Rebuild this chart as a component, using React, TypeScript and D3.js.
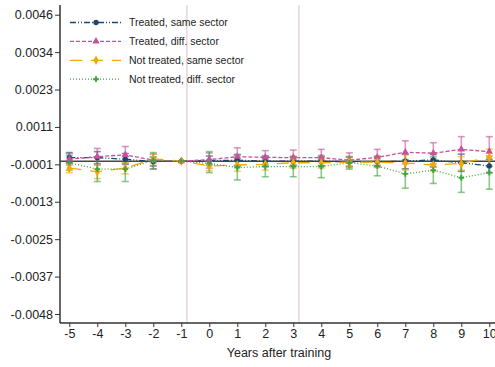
import * as d3 from 'd3';
import React, { useRef, useEffect } from 'react';

const years = [-5, -4, -3, -2, -1, 0, 1, 2, 3, 4, 5, 6, 7, 8, 9, 10];
const yTickLabels = ['-0.0048', '-0.0037', '-0.0025', '-0.0013', '-0.0001', '0.0011', '0.0023', '0.0034', '0.0046'];
const refLines = [-0.8, 3.2];

// treated, same sector
const tsCoef = [0.00011, 0.00011, 0.00006, -0.00001, 0, 0.00002, 0.00003, 0, 0, 0, -0.00002, -0.00002, 0, 0.00004, -0.00005, -0.00015];
const tsLo = [-0.00005, -0.00008, -0.0001, -0.00015, 0, -0.00012, -0.00015, -0.00016, -0.00014, -0.00014, -0.00016, -0.00018, -0.00024, -0.00018, -0.00032, -0.00036];
const tsHi = [0.00027, 0.0003, 0.00024, 0.00013, 0, 0.00016, 0.00021, 0.00016, 0.00014, 0.00014, 0.00012, 0.00014, 0.00022, 0.00024, 0.00022, 0.00006];

// treated, diff. sector
const tdCoef = [0.00006, 0.00014, 0.0002, 0.00003, 0, 0.00005, 0.00014, 0.00012, 0.00011, 0.00011, 0.00003, 0.00012, 0.00028, 0.00025, 0.00037, 0.0003];
const tdLo = [-0.00012, -0.00012, -0.00006, -0.00024, 0, -0.00022, -0.00014, -0.0001, -0.00013, -0.00015, -0.0002, -0.00013, -0.00008, -0.00008, -0.00003, -0.00017];
const tdHi = [0.00024, 0.0004, 0.00046, 0.00022, 0, 0.00026, 0.00042, 0.00033, 0.00035, 0.00037, 0.00026, 0.00037, 0.00064, 0.00058, 0.00077, 0.00077];

// not treated, same sector
const nsCoef = [-0.00022, -0.00033, -0.00022, 0.00007, 0, -0.00015, -0.00012, -0.0001, -0.00005, -0.00005, -0.00003, -0.00003, -0.00006, -0.00012, -0.00007, 0.00012];
const nsLo = [-0.00036, -0.00055, -0.0004, -0.00008, 0, -0.0003, -0.00032, -0.00028, -0.00022, -0.00022, -0.00018, -0.0002, -0.00028, -0.00032, -0.00028, -0.00014];
const nsHi = [-0.00007, -0.00011, -0.00004, 0.00022, 0, 0, 0.00008, 0.00008, 0.00012, 0.00012, 0.00012, 0.00014, 0.0002, 0.00008, 0.00014, 0.00038];

// not treated, diff. sector
const ndCoef = [-0.00005, -0.00025, -0.00025, 0.00003, 0, -0.00007, -0.0002, -0.00017, -0.00017, -0.00017, -0.00005, -0.00015, -0.0004, -0.00028, -0.00052, -0.00036];
const ndLo = [-0.00028, -0.00064, -0.00064, -0.00025, 0, -0.00036, -0.00059, -0.00049, -0.00049, -0.00052, -0.00025, -0.00046, -0.00085, -0.0007, -0.00098, -0.00088];
const ndHi = [0.00018, 0.00014, 0.00014, 0.00027, 0, 0.0003, 0.00019, 0.00015, 0.00015, 0.00018, 0.00015, 0.00016, 0.00005, 0.00014, -0.00006, 0.00016];

const seriesNames = ['Treated, same sector', 'Treated, diff. sector', 'Not treated, same sector', 'Not treated, diff. sector'];

const FONT = "'Liberation Sans', Arial, sans-serif";

const series = [
    { name: seriesNames[0], coef: tsCoef, lo: tsLo, hi: tsHi, color: '#1a476f', dash: '6,2,1,2,1,2', symbol: d3.symbolCircle, size: 22 },
    { name: seriesNames[1], coef: tdCoef, lo: tdLo, hi: tdHi, color: '#c8509c', dash: '4,2', symbol: d3.symbolTriangle, size: 24 },
    { name: seriesNames[2], coef: nsCoef, lo: nsLo, hi: nsHi, color: '#f7a800', dash: '12,9', symbol: d3.symbolDiamond, size: 26 },
    { name: seriesNames[3], coef: ndCoef, lo: ndLo, hi: ndHi, color: '#3fa33f', dash: '1,2', symbol: d3.symbolCross, size: 18 },
];

function Chart({ width, height }) {
    const ref = useRef();

    useEffect(() => {
        const svg = d3.select(ref.current);
        svg.selectAll('*').remove();

        const x = d3.scaleLinear().domain([-5, 10]).range([69.3, 489.3]);
        const y = d3.scaleLinear().domain([-0.0048, 0.0046]).range([314, 14.7]);
        const yTicks = d3.range(yTickLabels.length).map(i => -0.0048 + i * (0.0094 / (yTickLabels.length - 1)));

        // reference lines
        svg.append('g').selectAll('line').data(refLines).join('line')
            .attr('x1', d => x(d)).attr('x2', d => x(d))
            .attr('y1', 5).attr('y2', 323)
            .attr('stroke', '#e3cccc').attr('stroke-width', 1.2);

        // zero line
        svg.append('line')
            .attr('x1', 60).attr('x2', width)
            .attr('y1', y(0)).attr('y2', y(0))
            .attr('stroke', '#444').attr('stroke-width', 1.5);

        // confidence intervals
        series.forEach(s => {
            const g = svg.append('g').attr('stroke', s.color).attr('stroke-opacity', 0.6).attr('stroke-width', 1.6);
            years.forEach((yr, i) => {
                if (s.lo[i] === s.hi[i]) return;
                g.append('line').attr('x1', x(yr)).attr('x2', x(yr)).attr('y1', y(s.lo[i])).attr('y2', y(s.hi[i]));
                g.append('line').attr('x1', x(yr) - 3.5).attr('x2', x(yr) + 3.5).attr('y1', y(s.lo[i])).attr('y2', y(s.lo[i]));
                g.append('line').attr('x1', x(yr) - 3.5).attr('x2', x(yr) + 3.5).attr('y1', y(s.hi[i])).attr('y2', y(s.hi[i]));
            });
        });

        // lines and markers
        const line = d3.line().x(d => x(d[0])).y(d => y(d[1]));
        series.forEach(s => {
            const pts = years.map((yr, i) => [yr, s.coef[i]]);
            svg.append('path').datum(pts)
                .attr('d', line)
                .attr('fill', 'none')
                .attr('stroke', s.color)
                .attr('stroke-width', 1.3)
                .attr('stroke-dasharray', s.dash);
            svg.append('g').selectAll('path').data(pts).join('path')
                .attr('transform', d => `translate(${x(d[0])},${y(d[1])})`)
                .attr('d', d3.symbol().type(s.symbol).size(s.size))
                .attr('fill', s.color);
        });

        // axes
        const yAxis = svg.append('g')
            .attr('transform', 'translate(60,0)')
            .call(d3.axisLeft(y).tickValues(yTicks).tickFormat((d, i) => yTickLabels[i]).tickSize(5).tickPadding(2).tickSizeOuter(0));
        yAxis.select('.domain').attr('d', 'M0,5V323');

        const xAxis = svg.append('g')
            .attr('transform', 'translate(0,323)')
            .call(d3.axisBottom(x).tickValues(years).tickFormat(d => String(d)).tickSize(4).tickPadding(2).tickSizeOuter(0));
        xAxis.select('.domain').attr('d', `M60,0H${width}`);

        [yAxis, xAxis].forEach(a => {
            a.select('.domain').attr('stroke', '#333').attr('stroke-width', 1.5);
            a.selectAll('.tick line').attr('stroke', '#333').attr('stroke-width', 1);
            a.selectAll('.tick text').attr('fill', '#222').style('font-family', FONT);
        });
        yAxis.selectAll('.tick text').style('font-size', '12.5px');
        xAxis.selectAll('.tick text').style('font-size', '12.5px');

        svg.append('text')
            .attr('x', 279).attr('y', 357)
            .attr('text-anchor', 'middle')
            .style('font-size', '12.5px')
            .style('font-family', FONT)
            .attr('fill', '#222')
            .text('Years after training');

        // legend
        const leg = svg.append('g');
        series.forEach((s, i) => {
            const ly = 22.5 + i * 18.9;
            leg.append('line')
                .attr('x1', 70).attr('x2', 121).attr('y1', ly).attr('y2', ly)
                .attr('stroke', s.color).attr('stroke-width', 1.3).attr('stroke-dasharray', s.dash);
            leg.append('path')
                .attr('transform', `translate(96,${ly})`)
                .attr('d', d3.symbol().type(s.symbol).size(s.size))
                .attr('fill', s.color);
            leg.append('text')
                .attr('x', 129).attr('y', ly + 3.7)
                .style('font-size', '10.5px')
                .style('font-family', FONT)
                .attr('fill', '#222')
                .text(s.name);
        });
    }, []);

    return (
        <svg ref={ref} width={width} height={height} style={{ position: 'absolute', left: 0, top: 0, background: '#fff' }}></svg>
    );
}

export default function App() {
    return <Chart width={495} height={367} />;
}
